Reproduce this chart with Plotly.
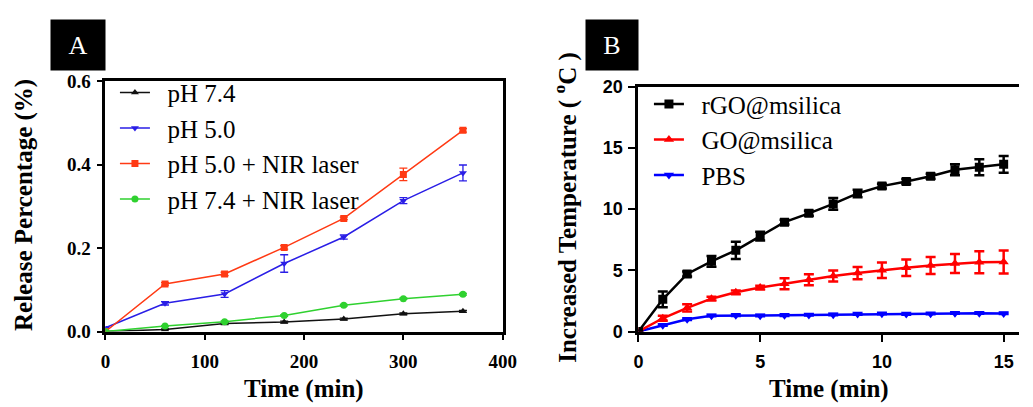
import plotly.graph_objects as go

W, H = 1033, 407

# ---- Panel A: release profiles ----
time_a = [0, 60, 120, 180, 240, 300, 360]
ph74 = [0.0, 0.005, 0.019, 0.0227, 0.030, 0.0424, 0.0485]
ph74_err = [0, 0.001, 0.002, 0.002, 0.002, 0.002, 0.002]
ph50 = [0.009, 0.0675, 0.090, 0.163, 0.2265, 0.3136, 0.380]
ph50_err = [0, 0.004, 0.008, 0.021, 0.005, 0.007, 0.019]
ph50_nir = [0.0, 0.114, 0.138, 0.2016, 0.271, 0.3765, 0.482]
ph50_nir_err = [0, 0.003, 0.004, 0.004, 0.003, 0.015, 0.004]
ph74_nir = [0.0, 0.013, 0.0235, 0.0386, 0.063, 0.0788, 0.0894]
ph74_nir_err = [0, 0.001, 0.002, 0.002, 0.002, 0.002, 0.002]

# ---- Panel B: photothermal heating ----
time_b = list(range(16))
rgo = [0, 2.63, 4.70, 5.73, 6.63, 7.79, 8.93, 9.65, 10.42, 11.27, 11.87, 12.25, 12.67, 13.2, 13.41, 13.65]
rgo_err = [0, 0.64, 0.2, 0.44, 0.7, 0.35, 0.2, 0.2, 0.48, 0.3, 0.2, 0.2, 0.2, 0.45, 0.65, 0.68]
go_ms = [0, 1.08, 1.93, 2.68, 3.2, 3.59, 3.9, 4.23, 4.54, 4.77, 5.0, 5.21, 5.39, 5.55, 5.65, 5.67]
go_err = [0, 0.2, 0.3, 0.15, 0.15, 0.15, 0.45, 0.45, 0.45, 0.5, 0.63, 0.67, 0.7, 0.78, 0.9, 0.94]
pbs = [0, 0.52, 1.0, 1.29, 1.32, 1.29, 1.32, 1.35, 1.37, 1.42, 1.45, 1.42, 1.45, 1.5, 1.5, 1.47]
pbs_err = [0, 0.05, 0.05, 0.05, 0.05, 0.05, 0.05, 0.05, 0.05, 0.05, 0.05, 0.05, 0.05, 0.05, 0.05, 0.05]

SERIF = "Times New Roman, Liberation Serif, serif"
SANS = "Arial, Liberation Sans, sans-serif"


def px_x(p):
    return p / W


def px_y(p):
    return 1 - p / H


fig = go.Figure()

series_a = [
    ("pH 7.4", ph74, ph74_err, "#111111", "triangle-up"),
    ("pH 5.0", ph50, ph50_err, "#2a1ee6", "triangle-down"),
    ("pH 5.0 + NIR laser", ph50_nir, ph50_nir_err, "#ff3a14", "square"),
    ("pH 7.4 + NIR laser", ph74_nir, ph74_nir_err, "#2fd12f", "circle"),
]
for i, (name, vals, err, col, sym) in enumerate(series_a):
    fig.add_trace(go.Scatter(
        x=time_a, y=vals, name="\u2002" + name, mode="lines+markers",
        line=dict(color=col, width=1.5),
        marker=dict(symbol=sym, size=7, color=col),
        error_y=dict(type="data", array=err, color=col, thickness=1.3, width=4),
        xaxis="x", yaxis="y", legend="legend", legendgroup="a%d" % i,
    ))

series_b = [
    ("PBS", pbs, pbs_err, "#0000ff", "triangle-down", 3),
    ("GO@msilica", go_ms, go_err, "#ff0000", "triangle-up", 2),
    ("rGO@msilica", rgo, rgo_err, "#000000", "square", 1),
]
for name, vals, err, col, sym, rank in series_b:
    fig.add_trace(go.Scatter(
        x=time_b, y=vals, name="\u2002" + name, mode="lines+markers",
        line=dict(color=col, width=2.5),
        marker=dict(symbol=sym, size=9, color=col),
        error_y=dict(type="data", array=err, color=col, thickness=2.5, width=5),
        xaxis="x2", yaxis="y2", legend="legend2", legendrank=rank,
        legendgroup=name,
    ))

axis_common = dict(showgrid=False, zeroline=False, showline=True, linecolor="black",
                   ticks="outside", tickcolor="black", tickwidth=2)

fig.update_layout(
    width=W, height=H,
    margin=dict(l=0, r=0, t=0, b=0),
    paper_bgcolor="white", plot_bgcolor="white",
    showlegend=True,
    xaxis=dict(domain=[px_x(102.3), px_x(507)], range=[0, 400], tickvals=[0, 100, 200, 300, 400],
               linewidth=2.5, mirror=True, ticklen=6, ticklabelstandoff=5,
               tickfont=dict(family=SERIF, size=19, color="black", weight="bold"),
               anchor="y", **axis_common),
    yaxis=dict(domain=[px_y(339), px_y(75)], range=[0, 0.6], tickvals=[0, 0.2, 0.4, 0.6],
               ticktext=["0.0", "0.2", "0.4", "0.6"],
               linewidth=2.5, mirror=True, ticklen=6, ticklabelstandoff=2,
               tickfont=dict(family=SERIF, size=19, color="black", weight="bold"),
               anchor="x", **axis_common),
    xaxis2=dict(domain=[px_x(645.3), 1.0], range=[0, 15.63], tickvals=[0, 5, 10, 15],
                linewidth=3, mirror=True, ticklen=7, ticklabelstandoff=5,
                tickfont=dict(family=SANS, size=18, color="black", weight="bold"),
                anchor="y2", **axis_common),
    yaxis2=dict(domain=[px_y(339), px_y(80.7)], range=[0, 20], tickvals=[0, 5, 10, 15, 20],
                linewidth=3, mirror=False, ticklen=7, ticklabelstandoff=2,
                tickfont=dict(family=SANS, size=18, color="black", weight="bold"),
                anchor="x2", **axis_common),
    legend=dict(x=px_x(112), y=px_y(63), xanchor="left", yanchor="top",
                bgcolor="rgba(0,0,0,0)", font=dict(family=SERIF, size=25, color="black"),
                tracegroupgap=0, traceorder="grouped"),
    legend2=dict(x=px_x(656), y=px_y(75), xanchor="left", yanchor="top",
                 bgcolor="rgba(0,0,0,0)", font=dict(family=SERIF, size=25, color="black"),
                 tracegroupgap=0, traceorder="grouped"),
)

annotations = [
    # panel tags
    dict(text="A", x=px_x(74), y=px_y(37), width=54, height=50, bgcolor="black",
         font=dict(family=SERIF, size=26, color="white")),
    dict(text="B", x=px_x(618), y=px_y(37), width=52, height=50, bgcolor="black",
         font=dict(family=SERIF, size=26, color="white")),
    # axis titles
    dict(text="<b>Release Percentage (%)</b>", x=px_x(20), y=px_y(206), textangle=-90,
         font=dict(family=SERIF, size=25, color="black")),
    dict(text="<b>Time (min)</b>", x=px_x(305), y=px_y(400),
         font=dict(family=SERIF, size=25, color="black")),
    dict(text="<b>Increased Temperature ( <sup>o</sup>C )</b>", x=px_x(571), y=px_y(208), textangle=-90,
         font=dict(family=SERIF, size=25, color="black")),
    dict(text="<b>Time (min)</b>", x=px_x(839), y=px_y(400),
         font=dict(family=SERIF, size=25, color="black")),
]
for a in annotations:
    a.update(xref="paper", yref="paper", showarrow=False, xanchor="center", yanchor="middle",
             borderpad=0)
fig.update_layout(annotations=annotations)

fig.write_html("out.html")
